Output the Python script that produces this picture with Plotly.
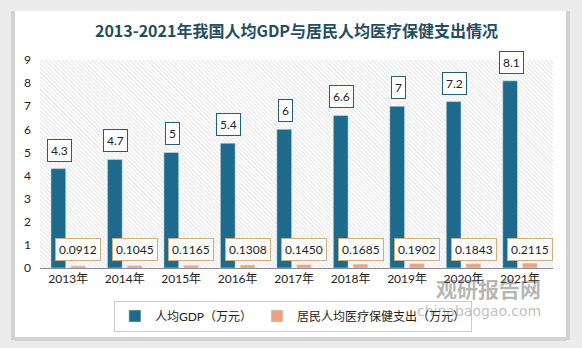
import base64
import plotly.graph_objects as go

years = ["2013年", "2014年", "2015年", "2016年", "2017年", "2018年", "2019年", "2020年", "2021年"]
gdp = [4.3, 4.7, 5.0, 5.4, 6.0, 6.6, 7.0, 7.2, 8.1]
gdp_text = ["4.3", "4.7", "5", "5.4", "6", "6.6", "7", "7.2", "8.1"]
health = [0.0912, 0.1045, 0.1165, 0.1308, 0.1450, 0.1685, 0.1902, 0.1843, 0.2115]
health_text = ["0.0912", "0.1045", "0.1165", "0.1308", "0.1450", "0.1685", "0.1902", "0.1843", "0.2115"]

W, H = 582, 348
L, R, T, B = 40, 29, 60, 80
PW, PH = W - L - R, H - T - B

def px_x(px):
    return (px - L) / PW

def px_y(py):
    return (H - B - py) / PH

CJK = "Lato, 'Noto Sans CJK SC', sans-serif"

fig = go.Figure()
fig.add_trace(go.Bar(name="人均GDP（万元）", x=years, y=gdp, marker_color="#1d6a8c"))
fig.add_trace(go.Bar(name="居民人均医疗保健支出（万元）", x=years, y=health, marker_color="#e8a383"))

ann = []
for yr, v, t in zip(years, gdp, gdp_text):
    ann.append(dict(x=yr, y=v, text=t, showarrow=False, xshift=-9, yshift=7,
                    yanchor="bottom", bgcolor="white", bordercolor="#1f5f7a",
                    borderwidth=1, borderpad=3, font=dict(size=12, color="#222", family=CJK)))
for yr, t in zip(years, health_text):
    ann.append(dict(x=yr, y=0.8, text=t, showarrow=False, xshift=10,
                    yanchor="middle", bgcolor="white", bordercolor="#cfae7c",
                    borderwidth=1, borderpad=3, font=dict(size=12, color="#222", family=CJK)))
# watermark
ann.append(dict(xref="paper", yref="paper", x=px_x(543), y=px_y(288), text="<b>观研报告网</b>",
                showarrow=False, xanchor="right", yanchor="middle",
                font=dict(size=21, color="rgba(110,110,110,0.5)", family="'Noto Sans CJK SC'")))
ann.append(dict(xref="paper", yref="paper", x=px_x(543), y=px_y(311), text="chinabaogao.com",
                showarrow=False, xanchor="right", yanchor="middle",
                font=dict(size=14, color="rgba(110,110,110,0.45)", family="'DejaVu Sans'")))

# hatch background image
hatch_svg = (
    f'<svg xmlns="http://www.w3.org/2000/svg" width="{PW}" height="{PH}" preserveAspectRatio="none">'
    '<defs><pattern id="p" width="3" height="3" patternUnits="userSpaceOnUse" patternTransform="rotate(-45)">'
    '<rect width="3" height="3" fill="#ffffff"/><line x1="0" y1="0" x2="0" y2="3" stroke="#d2d2d2" stroke-width="1.2"/>'
    '</pattern></defs>'
    f'<rect width="{PW}" height="{PH}" fill="url(#p)"/></svg>'
)
hatch_uri = "data:image/svg+xml;base64," + base64.b64encode(hatch_svg.encode()).decode()

# outer gray frame around white card
gray = "#ececec"
shade = "#d2d2d2"
cl, cr, ct, cb = 15, 566, 11, 337
shapes = [
    dict(type="rect", xref="paper", yref="paper", x0=px_x(0), x1=px_x(W), y0=px_y(0), y1=px_y(ct), fillcolor=gray, line_width=0, layer="below"),
    dict(type="rect", xref="paper", yref="paper", x0=px_x(0), x1=px_x(W), y0=px_y(cb), y1=px_y(H), fillcolor=gray, line_width=0, layer="below"),
    dict(type="rect", xref="paper", yref="paper", x0=px_x(0), x1=px_x(cl), y0=px_y(0), y1=px_y(H), fillcolor=gray, line_width=0, layer="below"),
    dict(type="rect", xref="paper", yref="paper", x0=px_x(cr), x1=px_x(W), y0=px_y(0), y1=px_y(H), fillcolor=gray, line_width=0, layer="below"),
    dict(type="rect", xref="paper", yref="paper", x0=px_x(cl - 4), x1=px_x(cl), y0=px_y(ct), y1=px_y(cb + 3), fillcolor=shade, line_width=0, layer="below"),
    dict(type="rect", xref="paper", yref="paper", x0=px_x(cr), x1=px_x(cr + 4), y0=px_y(ct), y1=px_y(cb + 3), fillcolor=shade, line_width=0, layer="below"),
    dict(type="rect", xref="paper", yref="paper", x0=px_x(cl), x1=px_x(cr), y0=px_y(cb), y1=px_y(cb + 4), fillcolor=shade, line_width=0, layer="below"),
]

fig.update_layout(
    width=W, height=H,
    margin=dict(l=L, r=R, t=T, b=B),
    paper_bgcolor="white",
    plot_bgcolor="rgba(0,0,0,0)",
    barmode="group", bargap=0.3, bargroupgap=0.25,
    title=dict(text="<b>2013-2021年我国人均GDP与居民人均医疗保健支出情况</b>",
               x=0.5, xref="paper", xanchor="center", y=1 - 31 / H, yanchor="middle",
               font=dict(size=16, color="#1f4e5f", family="'Noto Sans CJK SC', serif")),
    xaxis=dict(showline=True, linecolor="#8c8c8c", linewidth=1, ticks="",
               tickfont=dict(size=12, color="#222", family=CJK), showgrid=False),
    yaxis=dict(range=[0, 9], dtick=1, showgrid=False, zeroline=False, showline=False,
               tickfont=dict(size=12, color="#222", family=CJK), ticklabelstandoff=8),
    legend=dict(orientation="h", x=0.493, xanchor="center", y=px_y(316), yanchor="middle",
                bordercolor="#cccccc", borderwidth=1, bgcolor="rgba(255,255,255,0)",
                font=dict(size=12, color="#222", family=CJK), itemwidth=30),
    annotations=ann,
    shapes=shapes,
    images=[dict(source=hatch_uri, xref="paper", yref="paper", x=0, y=1, sizex=1, sizey=1,
                 xanchor="left", yanchor="top", sizing="stretch", layer="below")],
)

fig.write_html("out.html")
